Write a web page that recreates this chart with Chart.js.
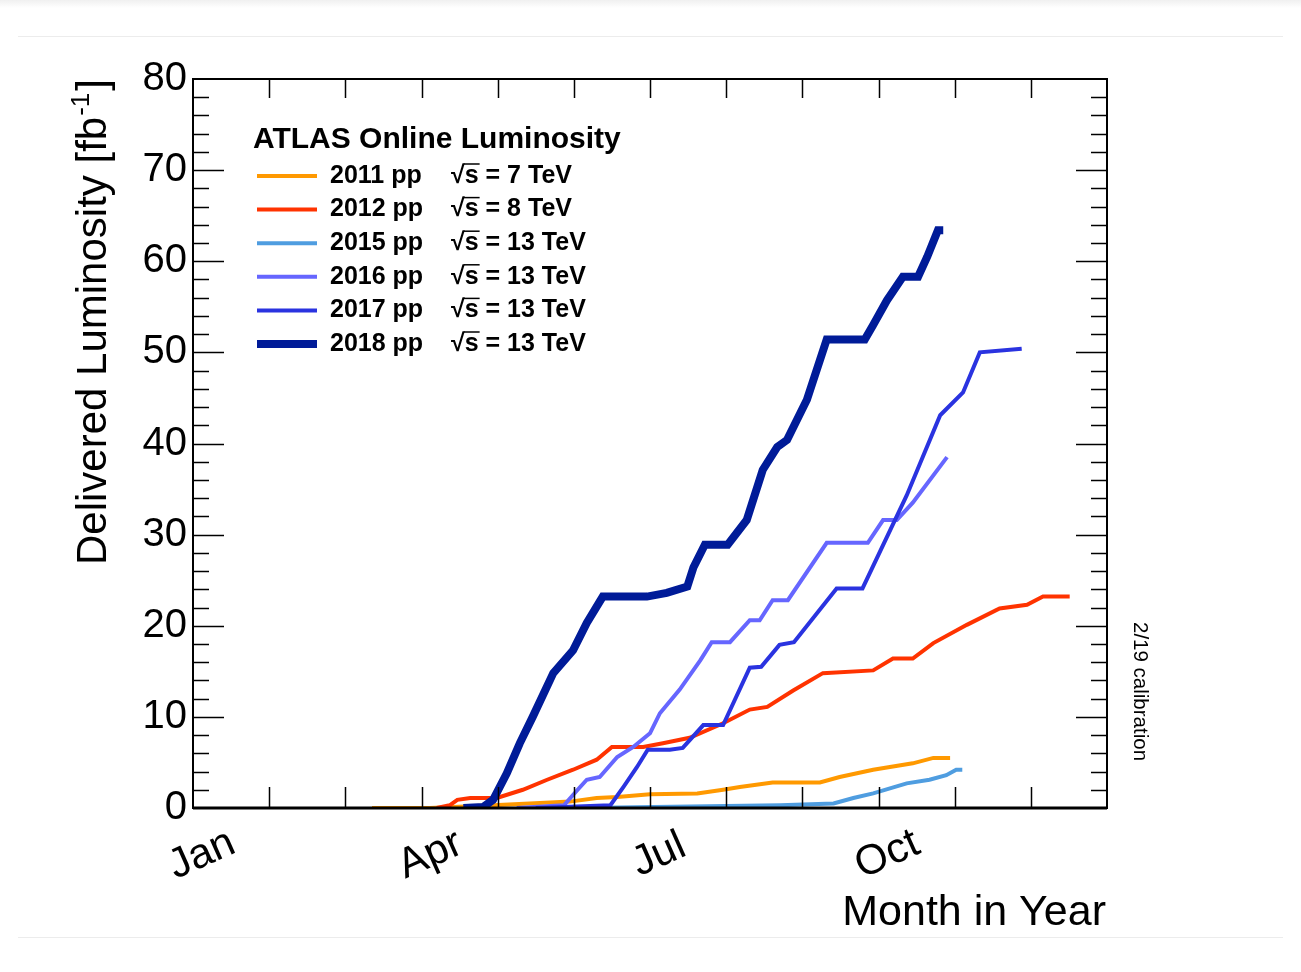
<!DOCTYPE HTML>
<html lang="en">

<head>
    <meta charset="UTF-8">
    <title>ATLAS Online Luminosity</title>
    <script src="https://cdn.jsdelivr.net/npm/chart.js@4/dist/chart.umd.min.js"></script>
    <style>
        body { margin: 0; background: #fff; }
        .rule { position: absolute; left: 18px; width: 1265px; height: 1px; background: #ececec; }
        #top { position: absolute; left: 0; top: 0; width: 1301px; height: 8px; background: linear-gradient(#f0f0f0, #fff); }
        #wrap { position: absolute; left: 0; top: 0; width: 1301px; height: 972px; }
    </style>
</head>

<body>
    <div id="top"></div>
    <div class="rule" style="top:36px"></div>
    <div class="rule" style="top:937px"></div>
    <div id="wrap"><canvas id="canvas" width="1301" height="972"></canvas></div>

    <script>
        // month in year: 0 = 1 Jan, 12 = 31 Dec
        var monthNames = ['Jan', 'Apr', 'Jul', 'Oct'];
        var monthValues = [0, 3, 6, 9];
        var years = ['2011', '2012', '2015', '2016', '2017', '2018'];
        var energies = ['7', '8', '13', '13', '13', '13'];

        var x2011 = [2.35, 3.11, 3.94, 4.42, 4.95, 5.30, 5.57, 6.00, 6.62, 6.96, 7.18, 7.61, 8.23, 8.49, 8.93, 9.45, 9.72, 9.94];
        var y2011 = [0, 0, 0.3, 0.5, 0.7, 1.1, 1.2, 1.5, 1.6, 2.0, 2.3, 2.8, 2.8, 3.4, 4.2, 4.9, 5.5, 5.5];

        var x2012 = [3.2, 3.37, 3.47, 3.64, 3.99, 4.33, 4.65, 4.99, 5.30, 5.50, 5.91, 6.17, 6.52, 6.96, 7.31, 7.54, 7.88, 8.27, 8.93, 9.19, 9.45, 9.72, 10.16, 10.59, 10.95, 11.16, 11.51];
        var y2012 = [0, 0.3, 0.9, 1.1, 1.1, 2.0, 3.1, 4.2, 5.3, 6.7, 6.7, 7.1, 7.7, 9.3, 10.8, 11.1, 12.9, 14.8, 15.1, 16.4, 16.4, 18.1, 20.1, 21.9, 22.3, 23.2, 23.2];

        var x2015 = [5.1, 7.71, 8.41, 8.67, 8.93, 9.37, 9.67, 9.89, 10.02, 10.10];
        var y2015 = [0, 0.3, 0.5, 1.1, 1.6, 2.7, 3.1, 3.6, 4.2, 4.2];

        var x2016 = [4.25, 4.87, 5.05, 5.17, 5.34, 5.57, 5.78, 6.00, 6.13, 6.39, 6.66, 6.81, 7.05, 7.31, 7.44, 7.61, 7.81, 8.32, 8.86, 9.06, 9.24, 9.45, 9.90];
        var y2016 = [0, 0.3, 2.0, 3.1, 3.4, 5.6, 6.7, 8.2, 10.4, 13.0, 16.2, 18.2, 18.2, 20.6, 20.6, 22.8, 22.8, 29.1, 29.1, 31.6, 31.6, 33.5, 38.5];

        var x2017 = [4.5, 5.48, 5.65, 5.83, 5.97, 6.26, 6.43, 6.70, 6.96, 7.31, 7.46, 7.70, 7.89, 8.45, 8.79, 9.37, 9.81, 10.11, 10.33, 10.88];
        var y2017 = [0, 0.3, 2.3, 4.5, 6.4, 6.4, 6.6, 9.1, 9.1, 15.4, 15.5, 17.9, 18.2, 24.1, 24.1, 34.3, 43.1, 45.6, 50.0, 50.4];

        var x2018 = [3.55, 3.81, 3.94, 4.12, 4.29, 4.46, 4.73, 4.99, 5.17, 5.38, 5.96, 6.22, 6.49, 6.57, 6.72, 7.02, 7.27, 7.48, 7.67, 7.80, 8.06, 8.32, 8.82, 8.93, 9.11, 9.32, 9.52, 9.64, 9.78, 9.85];
        var y2018 = [0, 0.1, 0.9, 3.8, 7.1, 10.0, 14.8, 17.3, 20.3, 23.2, 23.2, 23.6, 24.3, 26.4, 28.9, 28.9, 31.6, 37.1, 39.6, 40.4, 44.8, 51.4, 51.4, 53.0, 55.7, 58.3, 58.3, 60.5, 63.4, 63.4];

        var xs = [x2011, x2012, x2015, x2016, x2017, x2018];
        var ys = [y2011, y2012, y2015, y2016, y2017, y2018];
        var colors = ['#ff9900', '#ff3300', '#4f9de0', '#6666ff', '#2a33e0', '#001b98'];
        var widths = [4, 4, 4, 4, 4, 8];

        var FONT = '"Liberation Sans", Arial, Helvetica, sans-serif';

        function toPoints(x, y) {
            var pts = [];
            for (var i = 0; i < x.length; i++) pts.push({ x: x[i], y: y[i] });
            return pts;
        }

        var datasets = years.map(function (yr, i) {
            return {
                label: yr + ' pp',
                data: toPoints(xs[i], ys[i]),
                borderColor: colors[i],
                backgroundColor: colors[i],
                borderWidth: widths[i],
                pointRadius: 0,
                tension: 0,
                fill: false,
                order: years.length - 1 - i
            };
        });

        // frame, inward ticks, labels and legend (ROOT style)
        var decor = {
            id: 'decor',
            afterDatasetsDraw: function (chart) {
                var ctx = chart.ctx, a = chart.chartArea;
                var sx = chart.scales.x, sy = chart.scales.y;
                ctx.save();
                ctx.strokeStyle = '#000';
                ctx.lineWidth = 1.5;
                ctx.beginPath();
                for (var m = 1; m < 12; m++) {
                    var px = Math.round(sx.getPixelForValue(m)) + 0.5;
                    ctx.moveTo(px, a.bottom); ctx.lineTo(px, a.bottom - 21);
                    ctx.moveTo(px, a.top); ctx.lineTo(px, a.top + 19);
                }
                for (var v = 2; v < 80; v += 2) {
                    var py = Math.round(sy.getPixelForValue(v)) + 0.5;
                    var len = v % 10 === 0 ? 31 : 16;
                    ctx.moveTo(a.left, py); ctx.lineTo(a.left + len, py);
                    ctx.moveTo(a.right, py); ctx.lineTo(a.right - len, py);
                }
                ctx.stroke();
                ctx.lineWidth = 2;
                ctx.strokeRect(a.left, a.top, a.right - a.left, a.bottom - a.top);
                ctx.lineWidth = 3;
                ctx.beginPath();
                ctx.moveTo(a.left, a.bottom); ctx.lineTo(a.right, a.bottom);
                ctx.stroke();

                ctx.fillStyle = '#000';
                // month labels
                ctx.font = '42px ' + FONT;
                ctx.textAlign = 'center';
                ctx.textBaseline = 'middle';
                monthValues.forEach(function (mv, i) {
                    ctx.save();
                    ctx.translate(sx.getPixelForValue(mv) + 9, a.bottom + 47);
                    ctx.rotate(-24 * Math.PI / 180);
                    ctx.fillText(monthNames[i], 0, 0);
                    ctx.restore();
                });
                ctx.textAlign = 'right';
                ctx.textBaseline = 'alphabetic';
                ctx.font = '43px ' + FONT;
                ctx.fillText('Month in Year', a.right - 1, a.bottom + 117);

                // y title with superscript
                ctx.save();
                ctx.translate(106, 565);
                ctx.rotate(-Math.PI / 2);
                ctx.textAlign = 'left';
                ctx.textBaseline = 'alphabetic';
                ctx.font = '42px ' + FONT;
                var t1 = 'Delivered Luminosity [fb';
                ctx.fillText(t1, 0, 0);
                var w1 = ctx.measureText(t1).width;
                ctx.font = '26px ' + FONT;
                ctx.fillText('-1', w1 + 1, -17);
                var w2 = ctx.measureText('-1').width;
                ctx.font = '42px ' + FONT;
                ctx.fillText(']', w1 + w2 + 3, 0);
                ctx.restore();

                // calibration note
                ctx.save();
                ctx.translate(1140, 622);
                ctx.rotate(Math.PI / 2);
                ctx.font = '20.5px ' + FONT;
                ctx.textAlign = 'left';
                ctx.textBaseline = 'middle';
                ctx.fillText('2/19 calibration', 0, 0);
                ctx.restore();

                // legend
                ctx.font = 'bold 30px ' + FONT;
                ctx.textAlign = 'left';
                ctx.textBaseline = 'alphabetic';
                ctx.fillText('ATLAS Online Luminosity', a.left + 60, a.top + 69);
                chart.data.datasets.forEach(function (ds, i) {
                    var ly = a.top + 97 + i * 33.6;
                    ctx.strokeStyle = ds.borderColor;
                    ctx.lineWidth = ds.borderWidth;
                    ctx.beginPath();
                    ctx.moveTo(a.left + 64, ly); ctx.lineTo(a.left + 124, ly);
                    ctx.stroke();
                    ctx.font = 'bold 25px ' + FONT;
                    ctx.textBaseline = 'middle';
                    ctx.fillText(ds.label, a.left + 137, ly);
                    var rx = a.left + 258;
                    ctx.fillText('\u221a', rx, ly);
                    var rw = ctx.measureText('\u221a').width;
                    ctx.fillText('s = ' + energies[i] + ' TeV', rx + rw, ly);
                    var sw = ctx.measureText('s').width;
                    ctx.strokeStyle = '#000';
                    ctx.lineWidth = 1.5;
                    ctx.beginPath();
                    ctx.moveTo(rx + rw - 1, ly - 12); ctx.lineTo(rx + rw + sw + 1, ly - 12);
                    ctx.stroke();
                });
                ctx.restore();
            }
        };

        var ctx = document.getElementById('canvas').getContext('2d');
        window.myChart = new Chart(ctx, {
            type: 'line',
            data: { datasets: datasets },
            options: {
                responsive: false,
                animation: false,
                layout: { padding: { left: 0, top: 79, right: 194, bottom: 164 } },
                plugins: {
                    legend: { display: false },
                    tooltip: { enabled: false }
                },
                scales: {
                    x: {
                        type: 'linear',
                        min: 0,
                        max: 12,
                        display: false
                    },
                    y: {
                        type: 'linear',
                        min: 0,
                        max: 80,
                        grid: { display: false, drawTicks: false },
                        border: { display: false },
                        ticks: {
                            stepSize: 10,
                            padding: 6,
                            color: '#000',
                            font: { family: FONT, size: 40 }
                        },
                        afterFit: function (scale) { scale.width = 193; }
                    }
                }
            },
            plugins: [decor]
        });
    </script>
</body>

</html>
